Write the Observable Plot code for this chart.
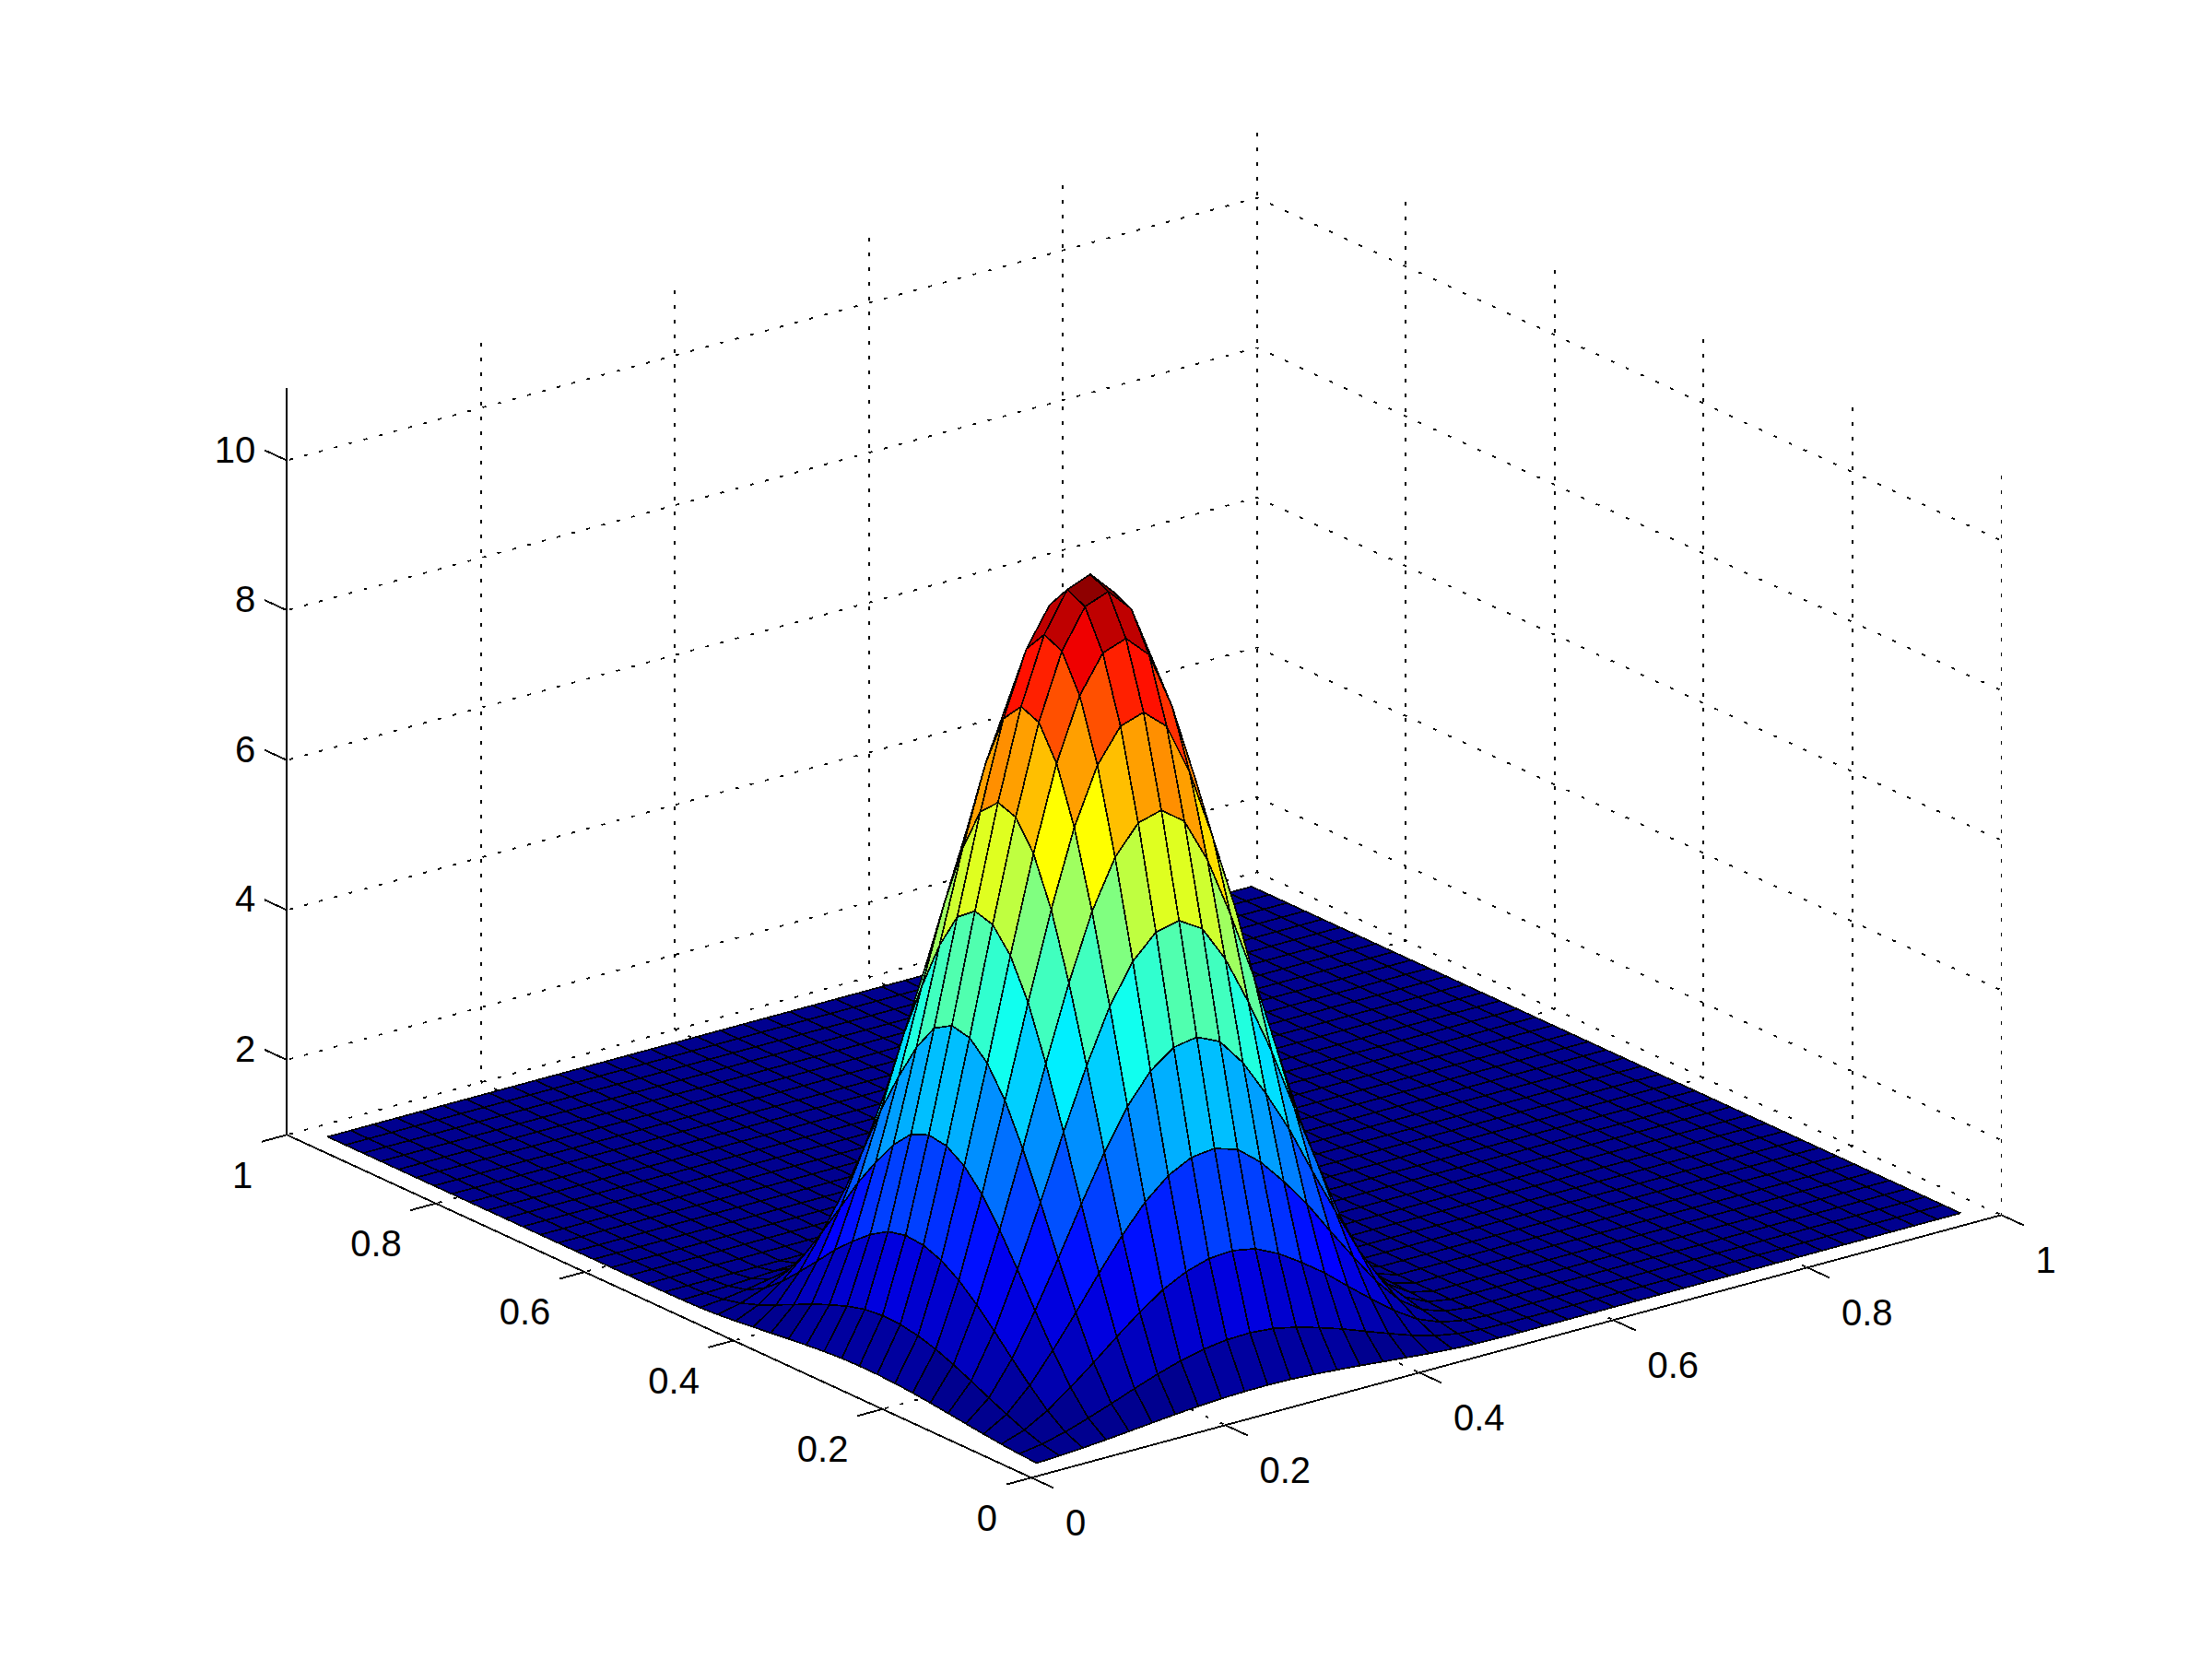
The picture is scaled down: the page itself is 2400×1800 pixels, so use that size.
<!DOCTYPE html>
<html>
<head>
<meta charset="utf-8">
<style>html,body{margin:0;padding:0;background:#fff}svg{display:block}</style>
<script src="https://cdn.jsdelivr.net/npm/d3@7"></script>
<script src="https://cdn.jsdelivr.net/npm/@observablehq/plot@0.6"></script>
</head>
<body>
<div id="chart"></div>
<script>
// Axis tick values
const xTicks = [0, 0.2, 0.4, 0.6, 0.8, 1];
const yTicks = [0, 0.2, 0.4, 0.6, 0.8, 1];
const zTicks = [2, 4, 6, 8, 10];
const zFloor = 1;
const zTop = 10.97;

// Surface: 41 x 41 nodes at x = (i + 1) / 42, y = (j + 1) / 42
const nodeCount = 41;
const gridDivisions = 42;

// Height above the floor, upper triangle of the symmetric bump;
// row i starts at column i, anything not listed lies on the floor.
const bumpRows = [
  [.004,.017,.038,.064,.093,.123,.152,.177,.196,.207,.209,.203,.185,.162,.135,.105,.076,.047,.024,.009,.003],
  [.064,.143,.244,.354,.470,.580,.676,.746,.788,.798,.772,.706,.616,.516,.400,.288,.180,.092,.036,.010],
  [.320,.546,.793,1.053,1.298,1.513,1.670,1.763,1.785,1.727,1.579,1.378,1.155,.895,.644,.403,.206,.081,.021],
  [.930,1.351,1.793,2.211,2.577,2.846,3.004,3.041,2.943,2.690,2.349,1.967,1.525,1.098,.686,.351,.137,.037],
  [1.962,2.605,3.212,3.743,4.133,4.364,4.417,4.275,3.907,3.411,2.857,2.215,1.595,.997,.509,.199,.053],
  [3.457,4.263,4.969,5.486,5.792,5.862,5.674,5.186,4.528,3.793,2.940,2.117,1.323,.676,.265,.071],
  [5.256,6.126,6.764,7.141,7.228,6.996,6.395,5.583,4.676,3.625,2.610,1.631,.834,.326,.087],
  [7.140,7.884,8.323,8.425,8.154,7.453,6.507,5.450,4.225,3.042,1.901,.972,.380,.101],
  [8.705,9.190,9.302,9.003,8.229,7.184,6.018,4.665,3.359,2.099,1.073,.420,.112],
  [9.700,9.820,9.505,8.688,7.585,6.353,4.925,3.546,2.216,1.133,.443,.118],
  [9.940,9.621,8.794,7.677,6.431,4.985,3.589,2.243,1.147,.449,.120],
  [9.312,8.511,7.431,6.224,4.825,3.474,2.171,1.110,.434,.116],
  [7.779,6.791,5.689,4.410,3.175,1.985,1.014,.397,.106],
  [5.929,4.967,3.850,2.772,1.733,.886,.347,.092],
  [4.160,3.225,2.322,1.451,.742,.290,.077],
  [2.500,1.800,1.125,.575,.225,.060],
  [1.296,.810,.414,.162,.043],
  [.506,.259,.101,.027],
  [.132,.052,.014],
  [.020,.005],
  [.001]
];

function nodeZ(i, j) {
  const a = Math.min(i, j), b = Math.max(i, j);
  const row = bumpRows[a];
  const h = row ? row[b - a] : undefined;
  return zFloor + (h === undefined ? 0 : h);
}

// Parallel view of the 3-D box onto the page
const view = {ox: 1118.5, oy: 1602.8, xx: 1052.5, xy: -285, yx: -807.8, yy: -372, zy: -81.3};
const px = (x, y) => view.ox + view.xx * x + view.yx * y;
const py = (x, y, z) => view.oy + view.xy * x + view.yy * y + view.zy * (z - zFloor);
const vertex = (id, x, y, z, extra) => ({id, px: px(x, y), py: py(x, y, z), ...extra});
const segment = (id, a, b) => [vertex(id, ...a), vertex(id, ...b)];

// MATLAB jet colormap, 64 steps
const clamp = v => Math.max(0, Math.min(1, v));
const jet = d3.range(64).map(k => {
  const t = (k + 1) / 64;
  const c = v => Math.round(255 * clamp(1.5 - Math.abs(4 * t - v)));
  return `rgb(${c(3)},${c(2)},${c(1)})`;
});
const zColorMax = zFloor + 9.94;
const colorThresholds = d3.range(1, 64).map(k => zFloor + k * (zColorMax - zFloor) / 64);

// Surface cells, far corner first so nearer cells paint over them
const cells = [];
const nodeAt = k => (k + 1) / gridDivisions;
for (let i = nodeCount - 2; i >= 0; i--) {
  for (let j = nodeCount - 2; j >= 0; j--) {
    const id = `${i}-${j}`, c = nodeZ(i, j);
    for (const [a, b] of [[i, j], [i + 1, j], [i + 1, j + 1], [i, j + 1]]) {
      cells.push(vertex(id, nodeAt(a), nodeAt(b), nodeZ(a, b), {c}));
    }
  }
}

// Dotted grid, each line starting from the far end
const wallsAlongX = [], wallsAlongY = [], uprights = [];
for (const z of [zFloor, ...zTicks]) {
  wallsAlongX.push(...segment(`wx${z}`, [1, 1, z], [0, 1, z]));
  wallsAlongY.push(...segment(`wy${z}`, [1, 1, z], [1, 0, z]));
}
for (const t of xTicks.slice(1, -1)) {
  wallsAlongY.push(...segment(`fx${t}`, [t, 1, zFloor], [t, 0, zFloor]));
  wallsAlongX.push(...segment(`fy${t}`, [1, t, zFloor], [0, t, zFloor]));
}
for (const t of xTicks.slice(1)) uprights.push(...segment(`ux${t}`, [t, 1, zFloor], [t, 1, zTop]));
for (const t of yTicks.slice(0, -1)) uprights.push(...segment(`uy${t}`, [1, t, zFloor], [1, t, zTop]));

// Solid axes and ticks
const xTickLen = 0.03, yTickLen = 0.026, zTickLen = 0.03;
const axisLines = [
  ...segment("xa", [0, 0, zFloor], [1, 0, zFloor]),
  ...segment("ya", [0, 0, zFloor], [0, 1, zFloor]),
  ...segment("za", [0, 1, zFloor], [0, 1, zTop])
];
for (const t of xTicks) axisLines.push(...segment(`xt${t}`, [t, 0, zFloor], [t, -xTickLen, zFloor]));
for (const t of yTicks) axisLines.push(...segment(`yt${t}`, [0, t, zFloor], [-yTickLen, t, zFloor]));
for (const t of zTicks) axisLines.push(...segment(`zt${t}`, [0, 1, t], [0, 1 + zTickLen, t]));

const xLabels = xTicks.map(t => vertex("x", t, 0, zFloor, {t}));
const yLabels = yTicks.map(t => vertex("y", 0, t, zFloor, {t}));
const zLabels = zTicks.map(t => vertex("z", 0, 1, t, {t}));

const dotted = {x: "px", y: "py", z: "id", stroke: "black", strokeWidth: 1.8, strokeLinecap: "butt", shapeRendering: "crispEdges"};
const font = {fontFamily: "'Liberation Sans', Arial, sans-serif", fontSize: 40, fill: "black", lineAnchor: "middle", text: d => String(d.t), x: "px", y: "py"};

const chart = Plot.plot({
  width: 2400,
  height: 1800,
  margin: 0,
  style: {background: "white"},
  x: {domain: [0, 2400], range: [0, 2400], axis: null},
  y: {domain: [0, 1800], range: [0, 1800], axis: null},
  color: {type: "threshold", domain: colorThresholds, range: jet},
  marks: [
    Plot.line(wallsAlongX, {...dotted, strokeDasharray: "4 12.7", strokeDashoffset: 2}),
    Plot.line(wallsAlongY, {...dotted, strokeDasharray: "4 13.7", strokeDashoffset: 2}),
    Plot.line(uprights, {...dotted, strokeDasharray: "4 12", strokeDashoffset: 2}),
    Plot.line(axisLines, {x: "px", y: "py", z: "id", stroke: "black", strokeWidth: 1.9, strokeLinecap: "butt", shapeRendering: "crispEdges"}),
    Plot.line(cells, {x: "px", y: "py", z: "id", fill: "c", stroke: "black", strokeWidth: 1.7, curve: "linear-closed", strokeLinejoin: "miter", shapeRendering: "crispEdges"}),
    Plot.text(xLabels, {...font, textAnchor: "start", dx: 37, dy: 50.2}),
    Plot.text(yLabels, {...font, textAnchor: "end", dx: -37, dy: 44.4}),
    Plot.text(zLabels, {...font, textAnchor: "end", dx: -34, dy: -10.8})
  ]
});
document.getElementById("chart").append(chart);
</script>
</body>
</html>
